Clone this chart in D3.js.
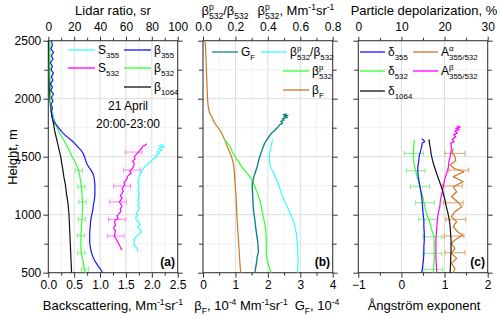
<!DOCTYPE html>
<html>
<head>
<meta charset="utf-8">
<script src="https://cdn.jsdelivr.net/npm/d3@7"></script>
<style>
  body { margin: 0; background: #fff; }
  svg { font-family: "Liberation Sans", Arial, sans-serif; }
</style>
</head>
<body>
<div id="root"></div>
<script>
// ---- data: [height m, value] ----
// panel (a): backscatter (Mm-1 sr-1) and lidar ratio (sr)
const beta355 = [[500,1.05],[530,1.01],[552,0.97],[580,0.93],[609,0.89],[640,0.86],[667,0.84],[700,0.82],[724,0.81],[760,0.80],[800,0.80],[850,0.80],[900,0.81],[954,0.82],[1000,0.84],[1040,0.86],[1080,0.87],[1126,0.89],[1170,0.90],[1213,0.90],[1260,0.90],[1299,0.89],[1330,0.88],[1356,0.86],[1380,0.83],[1400,0.80],[1420,0.77],[1443,0.74],[1470,0.72],[1500,0.70],[1530,0.67],[1557,0.63],[1585,0.57],[1615,0.51],[1640,0.45],[1658,0.40],[1680,0.34],[1701,0.29],[1720,0.25],[1744,0.21],[1765,0.17],[1787,0.13],[1810,0.10],[1830,0.08],[1860,0.07],[1890,0.06],[1920,0.08],[1950,0.05],[1980,0.09],[2010,0.06],[2040,0.10],[2070,0.05],[2100,0.08],[2130,0.04],[2160,0.09],[2190,0.06],[2220,0.10],[2250,0.05],[2280,0.08],[2310,0.04],[2340,0.09],[2370,0.06],[2400,0.10],[2430,0.05],[2460,0.08],[2500,0.06]];
const beta532 = [[500,0.72],[540,0.69],[580,0.68],[620,0.66],[667,0.64],[710,0.63],[753,0.63],[820,0.63],[897,0.64],[960,0.65],[1040,0.66],[1110,0.66],[1184,0.65],[1240,0.64],[1270,0.63],[1300,0.62],[1328,0.61],[1356,0.60],[1385,0.58],[1414,0.56],[1443,0.53],[1470,0.50],[1500,0.46],[1530,0.43],[1557,0.40],[1586,0.37],[1615,0.33],[1643,0.30],[1672,0.26],[1700,0.22],[1730,0.19],[1760,0.16],[1787,0.14],[1815,0.12],[1845,0.10],[1875,0.08],[1902,0.06],[1950,0.05],[2000,0.04],[2100,0.04],[2200,0.03],[2300,0.03],[2400,0.03],[2500,0.03]];
const beta1064 = [[500,0.45],[600,0.44],[700,0.43],[800,0.42],[900,0.41],[1000,0.40],[1100,0.38],[1184,0.35],[1260,0.33],[1328,0.30],[1390,0.28],[1443,0.26],[1500,0.24],[1557,0.21],[1615,0.18],[1672,0.15],[1730,0.12],[1787,0.10],[1845,0.07],[1902,0.05],[2000,0.03],[2100,0.02],[2250,0.02],[2500,0.01]];
const lr532 = [[696,57],[710,56],[725,55.5],[739,55],[755,54],[770,53.5],[782,53],[800,52],[815,51],[839,51.5],[860,52],[880,50.5],[897,51],[915,52],[935,51],[954,52],[970,54],[990,53],[1011,55],[1030,56],[1050,55.5],[1069,57],[1090,56],[1110,55],[1126,56],[1145,57],[1165,55.5],[1184,57],[1205,58],[1225,57],[1241,58],[1260,59],[1280,58.5],[1299,60],[1315,61],[1328,61],[1345,62.5],[1356,64],[1375,63],[1399,65],[1420,66],[1443,66.5],[1460,65],[1480,67],[1500,66.5],[1520,68],[1543,70],[1560,71],[1572,72],[1590,73],[1600,75],[1612,76]];
const lr355 = [[683,69],[700,69],[720,68],[739,66],[760,66.5],[782,66],[800,67],[820,69],[839,71],[860,72],[880,70],[897,69],[915,71],[935,70],[954,68],[975,67.5],[995,69],[1011,68],[1030,69],[1060,70.5],[1080,69],[1100,70],[1126,69],[1145,70],[1165,69.5],[1184,70.5],[1205,69],[1225,70],[1241,69.6],[1260,70],[1280,69],[1300,70],[1328,70],[1345,71],[1360,71.5],[1385,72.5],[1400,73.5],[1420,75],[1443,78],[1460,79],[1480,81],[1500,84],[1515,83],[1530,86],[1543,84],[1558,88],[1572,85],[1586,90],[1596,86],[1604,89]];
const err532a = [[530,0.71],[670,0.64],[820,0.63],[960,0.65],[1110,0.66],[1240,0.64],[1380,0.59]];
const errLr532 = [[816,52],[960,53],[1110,54],[1247,57],[1385,64.5],[1540,66]];

// panel (b)
const betaF = [[500,1.16],[580,1.14],[667,1.12],[750,1.10],[839,1.08],[920,1.06],[1011,1.04],[1100,1.03],[1155,1.02],[1230,1.00],[1299,0.98],[1360,0.97],[1414,0.95],[1460,0.92],[1500,0.88],[1540,0.82],[1586,0.75],[1630,0.69],[1672,0.63],[1700,0.58],[1730,0.52],[1760,0.44],[1787,0.37],[1815,0.31],[1845,0.27],[1880,0.20],[1931,0.16],[2000,0.14],[2075,0.13],[2150,0.12],[2218,0.11],[2300,0.10],[2362,0.09],[2430,0.08],[2500,0.06]];
const gF = [[500,1.60],[552,1.63],[600,1.66],[638,1.67],[680,1.71],[724,1.70],[780,1.68],[839,1.65],[900,1.62],[954,1.60],[1011,1.57],[1069,1.55],[1126,1.54],[1184,1.53],[1230,1.52],[1270,1.52],[1300,1.55],[1328,1.57],[1370,1.62],[1414,1.67],[1460,1.71],[1500,1.75],[1540,1.80],[1586,1.86],[1615,1.90],[1643,1.96],[1672,2.03],[1701,2.11],[1720,2.18],[1740,2.26],[1758,2.32],[1775,2.36],[1790,2.45],[1805,2.40],[1816,2.50],[1828,2.45],[1840,2.60],[1848,2.50],[1856,2.62],[1862,2.48],[1868,2.58]];
const betaP532 = [[500,0.42],[540,0.41],[581,0.40],[620,0.395],[667,0.39],[720,0.39],[782,0.39],[840,0.389],[897,0.385],[954,0.376],[1011,0.367],[1069,0.36],[1126,0.351],[1184,0.336],[1241,0.32],[1290,0.305],[1328,0.289],[1370,0.265],[1414,0.238],[1460,0.218],[1500,0.197],[1545,0.18],[1586,0.166],[1620,0.15],[1649,0.129]];
const ratioP532 = [[500,0.583],[550,0.585],[609,0.587],[667,0.585],[724,0.583],[782,0.58],[839,0.576],[897,0.567],[954,0.556],[1011,0.538],[1069,0.519],[1126,0.50],[1184,0.484],[1230,0.474],[1270,0.464],[1310,0.45],[1357,0.437],[1414,0.416],[1450,0.41],[1500,0.408],[1540,0.412],[1586,0.42],[1620,0.425],[1649,0.429]];

// panel (c): depolarization (%) and Angstrom exponents
const delta355 = [[500,14.7],[550,14.9],[609,15.1],[667,15.2],[724,15.2],[782,15.3],[839,15.3],[897,15.2],[954,15.2],[1011,15.0],[1069,14.9],[1112,14.8],[1155,14.7],[1200,14.5],[1241,14.3],[1285,14.1],[1328,13.9],[1370,13.8],[1414,13.8],[1460,14.0],[1500,14.1],[1543,14.4],[1586,14.7],[1615,14.8],[1630,15.4],[1644,15.1],[1655,14.7]];
const delta532 = [[500,17.4],[560,17.5],[620,17.6],[667,17.6],[720,17.6],[782,17.6],[830,17.4],[870,17.0],[920,16.7],[954,16.4],[1000,15.9],[1040,15.6],[1090,15.3],[1126,15.1],[1170,14.8],[1210,14.5],[1250,14.2],[1299,13.9],[1340,13.5],[1385,13.3],[1420,13.0],[1471,12.8],[1520,12.8],[1560,12.8],[1600,12.9],[1644,13.0]];
const delta1064 = [[500,21.3],[600,21.4],[700,21.5],[782,21.5],[839,21.4],[897,21.3],[954,21.1],[1011,20.8],[1069,20.4],[1126,20.1],[1170,19.8],[1213,19.5],[1256,19.1],[1299,18.7],[1340,18.3],[1385,17.9],[1428,17.5],[1471,17.2],[1520,16.9],[1575,16.7],[1615,16.5],[1649,16.4]];
const angBeta = [[500,0.82],[560,0.81],[620,0.80],[667,0.80],[720,0.80],[782,0.80],[839,0.81],[897,0.82],[940,0.83],[983,0.84],[1025,0.86],[1069,0.89],[1112,0.90],[1155,0.92],[1200,0.95],[1241,0.97],[1285,0.99],[1328,1.02],[1370,1.06],[1414,1.09],[1457,1.10],[1500,1.13],[1543,1.15],[1586,1.16],[1615,1.14],[1630,1.22],[1650,1.18],[1672,1.26],[1690,1.21],[1705,1.30],[1720,1.24],[1735,1.34],[1744,1.26],[1755,1.36],[1765,1.28]];
const angAlpha = [[500,1.20],[537,1.24],[580,1.16],[624,1.28],[667,1.16],[710,1.24],[753,1.16],[782,1.24],[825,1.42],[853,1.30],[897,1.20],[940,1.28],[983,1.16],[1026,1.24],[1069,1.40],[1112,1.30],[1155,1.16],[1198,1.28],[1241,1.20],[1284,1.43],[1328,1.20],[1370,1.45],[1400,1.22],[1428,1.13],[1465,1.26],[1500,1.24],[1535,1.18],[1572,1.20]];
const errDelta532 = [[529,17.4],[667,17.2],[810,17.2],[960,16.2],[1103,15.5],[1241,14.3],[1379,13.3],[1529,12.9]];
const errAngAlpha = [[672,1.24],[816,1.22],[960,1.26],[1103,1.20],[1247,1.18],[1385,1.33],[1529,1.24]];

// ---- layout ----
const W = 500, H = 319;
const yTop = 40.7, yBot = 272.7;
const xa = [48.3, 177.7], xb = [203, 332.7], xc = [358.3, 487.7];
const hMajor = [500, 1000, 1500, 2000, 2500];
const hMinor = [750, 1250, 1750, 2250];

const y = d3.scaleLinear().domain([500, 2500]).range([yBot, yTop]);

const svg = d3.select("#root").append("svg")
  .attr("width", W).attr("height", H);

// rich text with sub/superscripts; parts: "txt" or [txt, "sub"|"sup", stack]
function rich(g, x, yy, parts, size, anchor, weight) {
  const t = g.append("text").attr("x", x).attr("y", yy)
    .attr("font-size", size).attr("text-anchor", anchor || "start")
    .attr("font-weight", weight || "normal").attr("fill", "#000");
  let cur = 0, lastW = 0;
  parts.forEach(p => {
    const [str, kind, stack] = typeof p === "string" ? [p] : p;
    const target = kind === "sup" ? -0.42 * size : kind === "sub" ? 0.3 * size : 0;
    const ts = t.append("tspan").text(str).attr("dy", target - cur);
    if (kind) ts.attr("font-size", size * 0.66);
    if (stack) ts.attr("dx", -lastW);
    cur = target;
    lastW = ts.node().getComputedTextLength();
  });
  return t;
}

function panel(xr, bot, top, label) {
  const g = svg.append("g");
  const [xB, bMaj, bMin, bFmt] = bot;
  const [xT, tMaj, tMin, tFmt] = top;

  // grid
  g.selectAll(".gx").data(bMin).join("line")
    .attr("x1", d => xB(d)).attr("x2", d => xB(d)).attr("y1", yTop).attr("y2", yBot)
    .attr("stroke", "#e4e4e4").attr("stroke-dasharray", "1,1");
  g.selectAll(".gX").data(bMaj).join("line")
    .attr("x1", d => xB(d)).attr("x2", d => xB(d)).attr("y1", yTop).attr("y2", yBot)
    .attr("stroke", "#dcdcdc");
  g.selectAll(".gy").data(hMinor).join("line")
    .attr("x1", xr[0]).attr("x2", xr[1]).attr("y1", d => y(d)).attr("y2", d => y(d))
    .attr("stroke", "#e4e4e4").attr("stroke-dasharray", "1,1");
  g.selectAll(".gY").data(hMajor).join("line")
    .attr("x1", xr[0]).attr("x2", xr[1]).attr("y1", d => y(d)).attr("y2", d => y(d))
    .attr("stroke", "#dcdcdc");

  const ax = (sel, axis) => {
    sel.call(axis);
    sel.select(".domain").remove();
    sel.selectAll("line").attr("stroke", "#333");
    sel.selectAll("text").attr("font-size", 12).attr("fill", "#000")
      .attr("font-family", "Liberation Sans, Arial, sans-serif");
  };
  // bottom
  ax(g.append("g").attr("transform", `translate(0,${yBot})`),
    d3.axisBottom(xB).tickValues(bMin).tickSize(3).tickFormat(""));
  ax(g.append("g").attr("transform", `translate(0,${yBot})`),
    d3.axisBottom(xB).tickValues(bMaj).tickSize(5).tickPadding(3).tickFormat(bFmt));
  // top
  ax(g.append("g").attr("transform", `translate(0,${yTop})`),
    d3.axisTop(xT).tickValues(tMin).tickSize(3).tickFormat(""));
  ax(g.append("g").attr("transform", `translate(0,${yTop})`),
    d3.axisTop(xT).tickValues(tMaj).tickSize(4).tickPadding(6).tickFormat(tFmt));
  // left / right
  ax(g.append("g").attr("transform", `translate(${xr[0]},0)`),
    d3.axisLeft(y).tickValues(hMinor).tickSize(4).tickFormat(""));
  ax(g.append("g").attr("transform", `translate(${xr[0]},0)`),
    d3.axisLeft(y).tickValues(hMajor).tickSize(5).tickPadding(2).tickFormat(label ? d3.format("d") : ""));
  ax(g.append("g").attr("transform", `translate(${xr[1]},0)`),
    d3.axisRight(y).tickValues(hMinor).tickSize(4).tickFormat(""));
  ax(g.append("g").attr("transform", `translate(${xr[1]},0)`),
    d3.axisRight(y).tickValues(hMajor).tickSize(5).tickFormat(""));

  // frame
  g.append("rect").attr("x", xr[0]).attr("y", yTop)
    .attr("width", xr[1] - xr[0]).attr("height", yBot - yTop)
    .attr("fill", "none").attr("stroke", "#333").attr("stroke-width", 1);
  return g;
}

function curve(g, data, xs, color, w) {
  g.append("path").datum(data)
    .attr("fill", "none").attr("stroke", color).attr("stroke-width", w || 1.2)
    .attr("stroke-linejoin", "round")
    .attr("d", d3.line().x(d => xs(d[1])).y(d => y(d[0])));
}

function errBars(g, data, xs, err, color) {
  data.forEach(([h, v]) => {
    const yy = y(h), x0 = xs(v - err), x1 = xs(v + err);
    g.append("line").attr("x1", x0).attr("x2", x1).attr("y1", yy).attr("y2", yy)
      .attr("stroke", color).attr("stroke-width", 1);
    [x0, x1].forEach(xx => g.append("line").attr("x1", xx).attr("x2", xx)
      .attr("y1", yy - 2.5).attr("y2", yy + 2.5).attr("stroke", color).attr("stroke-width", 1));
  });
}

function legendItem(g, x1, x2, yy, color, parts) {
  g.append("line").attr("x1", x1).attr("x2", x2).attr("y1", yy).attr("y2", yy)
    .attr("stroke", color).attr("stroke-width", 1.3);
  rich(g, x2 + 3, yy + 4, parts, 12);
}

// ---- panel (a) ----
const xBack = d3.scaleLinear().domain([0, 2.5]).range(xa);
const xLR = d3.scaleLinear().domain([0, 100]).range(xa);
const gA = panel(xa,
  [xBack, [0, 0.5, 1, 1.5, 2, 2.5], [0.25, 0.75, 1.25, 1.75, 2.25], d3.format(".1f")],
  [xLR, [0, 20, 40, 60, 80, 100], [10, 30, 50, 70, 90], d3.format("d")], true);
errBars(gA, errLr532, xLR, 6.5, "#ff80ff");
errBars(gA, err532a, xBack, 0.07, "#80f080");
curve(gA, lr355, xLR, "#33ffff");
curve(gA, lr532, xLR, "#ff00ff");
curve(gA, beta1064, xBack, "#111");
curve(gA, beta532, xBack, "#33ff33");
curve(gA, beta355, xBack, "#1515ff");
legendItem(gA, 68, 95, 50, "#33ffff", ["S", ["355", "sub"]]);
legendItem(gA, 68, 95, 68, "#ff00ff", ["S", ["532", "sub"]]);
legendItem(gA, 124, 151, 50, "#1515ff", ["β", ["355", "sub"]]);
legendItem(gA, 124, 151, 68, "#33ff33", ["β", ["532", "sub"]]);
legendItem(gA, 124, 151, 87, "#111", ["β", ["1064", "sub"]]);
gA.append("text").attr("x", 128).attr("y", 110).attr("text-anchor", "middle")
  .attr("font-size", 12).text("21 April");
gA.append("text").attr("x", 128).attr("y", 128).attr("text-anchor", "middle")
  .attr("font-size", 12).text("20:00-23:00");
gA.append("text").attr("x", 175).attr("y", 266).attr("text-anchor", "end")
  .attr("font-size", 12).attr("font-weight", "bold").text("(a)");

// ---- panel (b) ----
const xB4 = d3.scaleLinear().domain([0, 4]).range(xb);
const xB08 = d3.scaleLinear().domain([0, 0.8]).range(xb);
const gB = panel(xb,
  [xB4, [0, 1, 2, 3, 4], [0.5, 1.5, 2.5, 3.5], d3.format("d")],
  [xB08, [0, 0.2, 0.4, 0.6, 0.8], [0.1, 0.3, 0.5, 0.7], d3.format(".1f")], false);
curve(gB, betaF, xB4, "#cc7722");
curve(gB, ratioP532, xB08, "#33ffff");
curve(gB, betaP532, xB08, "#33ff33");
curve(gB, gF, xB4, "#138585", 1.4);
legendItem(gB, 212, 238, 52, "#138585", ["G", ["F", "sub"]]);
legendItem(gB, 261, 287, 52, "#33ffff", ["β", ["p", "sup"], ["532", "sub", true], "/β", ["532", "sub"]]);
legendItem(gB, 283, 309, 71, "#33ff33", ["β", ["p", "sup"], ["532", "sub", true]]);
legendItem(gB, 283, 309, 90, "#cc7722", ["β", ["F", "sub"]]);
gB.append("text").attr("x", 330).attr("y", 266).attr("text-anchor", "end")
  .attr("font-size", 12).attr("font-weight", "bold").text("(b)");

// ---- panel (c) ----
const xAng = d3.scaleLinear().domain([-1, 2]).range(xc);
const xDep = d3.scaleLinear().domain([0, 30]).range(xc);
const gC = panel(xc,
  [xAng, [-1, 0, 1, 2], [-0.5, 0.5, 1.5], d3.format("d")],
  [xDep, [0, 10, 20, 30], [5, 15, 25], d3.format("d")], false);
errBars(gC, errDelta532, xDep, 2.2, "#80f080");
errBars(gC, errAngAlpha, xAng, 0.23, "#e0a060");
curve(gC, angAlpha, xAng, "#cc7722");
curve(gC, angBeta, xAng, "#ff00ff");
curve(gC, delta1064, xDep, "#111");
curve(gC, delta532, xDep, "#33ff33");
curve(gC, delta355, xDep, "#1515ff");
legendItem(gC, 360, 385, 52, "#1515ff", ["δ", ["355", "sub"]]);
legendItem(gC, 360, 385, 71, "#33ff33", ["δ", ["532", "sub"]]);
legendItem(gC, 360, 385, 91, "#111", ["δ", ["1064", "sub"]]);
legendItem(gC, 413, 438, 52, "#cc7722", ["A", ["α", "sup"], ["355/532", "sub", true]]);
legendItem(gC, 413, 438, 71, "#ff00ff", ["A", ["β", "sup"], ["355/532", "sub", true]]);
gC.append("text").attr("x", 485).attr("y", 266).attr("text-anchor", "end")
  .attr("font-size", 12).attr("font-weight", "bold").text("(c)");

// ---- axis titles ----
const tt = svg.append("g");
rich(tt, 113, 15, ["Lidar ratio, sr"], 13, "middle");
rich(tt, 113, 310, ["Backscattering, Mm", ["-1", "sup"], "sr", ["-1", "sup"]], 13, "middle");
rich(tt, 225, 15, ["β", ["p", "sup"], ["532", "sub", true], "/β", ["532", "sub"]], 13, "middle");
rich(tt, 296, 15, ["β", ["p", "sup"], ["532", "sub", true], ", Mm", ["-1", "sup"], "sr", ["-1", "sup"]], 13, "middle");
rich(tt, 241, 310, ["β", ["F", "sub"], ", 10", ["-4", "sup"], " Mm", ["-1", "sup"], "sr", ["-1", "sup"]], 13, "middle");
rich(tt, 317, 310, ["G", ["F", "sub"], ", 10", ["-4", "sup"]], 13, "middle");
rich(tt, 424, 15, ["Particle depolarization, %"], 13, "middle");
rich(tt, 424, 310, ["Ångström exponent"], 13, "middle");
tt.append("text").attr("transform", "translate(17,157) rotate(-90)")
  .attr("text-anchor", "middle").attr("font-size", 13).text("Height, m");
</script>
</body>
</html>
